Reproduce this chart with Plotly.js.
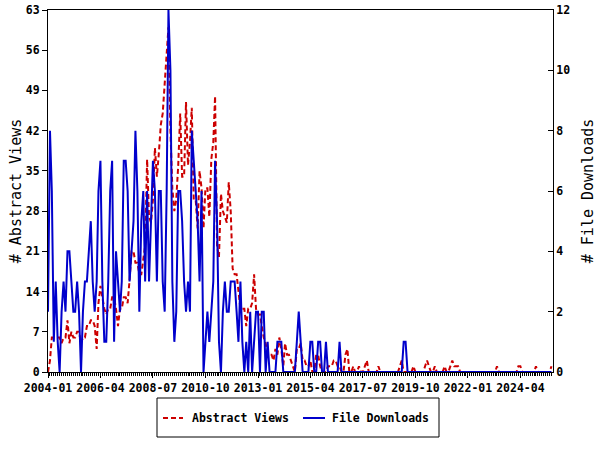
<!DOCTYPE html>
<html><head><meta charset="utf-8">
<script src="https://cdn.plot.ly/plotly-3.0.1.min.js"></script>
<style>html,body{margin:0;padding:0;background:#fff}#chart{width:600px;height:450px}</style>
</head><body><div id="chart"></div>
<script>
const startYear = 2004;
const startMonth = 1;

const abstractViews = [
0,2,6,6,6,6,6,5,6,6,
9,5,7,6,6,7,7,5,6,6,
8,8,9,9,8,4,12,15,13,11,
10,11,11,13,13,11,8,11,11,13,
13,12,16,21,21,19,19,17,17,20,
22,37,27,26,30,39,34,38,43,45,
50,55,60,42,32,28,30,36,45,34,
34,47,36,40,46,30,30,25,35,32,
25,32,32,27,37,40,48,22,20,31,
28,27,26,33,28,18,17,17,14,11,
11,11,8,11,11,12,17,11,10,10,
8,6,5,3,3,3,2,4,3,6,
4,1,5,3,3,2,1,0,4,4,
5,2,2,1,1,2,0,0,3,3,
1,0,0,0,1,1,1,2,2,1,
1,0,0,3,4,0,0,1,0,0,
1,0,0,1,2,0,0,0,0,0,
1,0,0,0,0,0,0,0,0,0,
0,1,2,0,0,0,0,0,1,0,
0,0,0,0,1,2,1,0,0,1,
0,0,0,0,1,0,0,1,2,1,
1,1,0,0,0,0,0,0,0,0,
0,0,0,0,0,0,0,0,0,0,
0,1,0,0,0,0,0,0,0,0,
0,0,1,1,0,0,0,0,0,0,
0,1,0,0,0,0,0,0,0,1
];

const fileDownloads = [
2,8,6,1,3,1,0,2,3,2,
4,4,3,2,2,3,2,0,2,3,
3,4,5,3,2,3,6,7,3,1,
1,3,6,7,1,4,3,2,3,7,
7,6,3,4,5,8,6,2,5,6,
3,6,3,5,7,6,3,6,6,3,
2,6,12,10,3,1,2,6,6,5,
3,2,3,2,8,7,6,5,3,6,
0,1,2,1,2,3,7,5,1,0,
2,3,2,2,3,3,3,2,1,3,
1,0,1,0,2,0,1,2,2,0,
2,2,0,1,0,0,0,0,1,1,
1,0,0,0,0,0,0,0,1,2,
1,0,0,0,0,1,1,0,0,1,
1,0,0,1,0,0,0,0,0,0,
1,0,0,0,0,0,0,0,0,0,
0,0,0,0,0,0,0,0,0,0,
0,0,0,0,0,0,0,0,0,0,
0,0,0,1,1,0,0,0,0,0,
0,0,0,0,0,0,0,0,0,0,
0,0,0,0,0,0,0,0,0,0,
0,0,0,0,0,0,0,0,0,0,
0,0,0,0,0,0,0,0,0,0,
0,0,0,0,0,0,0,0,0,0,
0,0,0,0,0,0,0,0,0,0,
0,0,0,0,0,0,0,0,0,0
];

const seriesNames = ['Abstract Views', 'File Downloads'];
const seriesColors = ['#cc0000', '#0000cc'];

const months = abstractViews.map((_, i) => {
  const m = startMonth - 1 + i;
  const y = startYear + Math.floor(m / 12);
  const mm = (m % 12) + 1;
  return y + '-' + String(mm).padStart(2, '0') + '-01';
});

const mono = 'DejaVu Sans Mono, monospace';
const tickFont = {family: mono, size: 11.5, color: '#000', weight: 'bold'};
const redDash = '5px,3px';

const traces = [
  {x: months, y: abstractViews, name: seriesNames[0], type: 'scatter', mode: 'lines',
   line: {color: seriesColors[0], width: 2, dash: redDash}, xaxis: 'x', yaxis: 'y', hoverinfo: 'skip'},
  {x: months, y: fileDownloads, name: seriesNames[1], type: 'scatter', mode: 'lines',
   line: {color: seriesColors[1], width: 2}, xaxis: 'x', yaxis: 'y2', hoverinfo: 'skip'}
];

// plot area: x 48..553 px, y 10..372 px
const px = v => (v - 48) / 505;
const py = v => (372 - v) / 362;

const layout = {
  width: 600, height: 450,
  margin: {l: 48, r: 47, t: 10, b: 78, pad: 0},
  paper_bgcolor: '#fff', plot_bgcolor: '#fff',
  showlegend: false,
  xaxis: {type: 'date', range: ['2004-01-01', '2025-08-25'], showgrid: false, zeroline: false,
    showline: true, linecolor: '#000', linewidth: 1, mirror: true,
    tickmode: 'linear', tick0: '2004-01-01', dtick: 'M27', tickformat: '%Y-%m',
    ticks: 'outside', ticklen: 5, tickcolor: '#000', tickfont: tickFont,
    minor: {dtick: 'M1', tick0: '2004-01-01', ticks: 'outside', ticklen: 3, tickcolor: '#000', showgrid: false}},
  yaxis: {range: [0, 63], tickmode: 'linear', tick0: 0, dtick: 7, showgrid: false, zeroline: false,
    showline: true, linecolor: '#000', linewidth: 1, ticks: 'outside', ticklen: 5, tickcolor: '#000',
    tickfont: tickFont,
    title: {text: '# Abstract Views', font: {family: mono, size: 15, color: '#000'}, standoff: 0}},
  yaxis2: {range: [0, 12], overlaying: 'y', side: 'right', tickmode: 'linear', tick0: 0, dtick: 2,
    showgrid: false, zeroline: false, showline: true, linecolor: '#000', linewidth: 1,
    ticks: 'inside', ticklen: 5, tickcolor: '#000', tickfont: tickFont,
    title: {text: '# File Downloads', font: {family: mono, size: 15, color: '#000'}, standoff: 13}},
  shapes: [
    {type: 'rect', xref: 'paper', yref: 'paper', x0: px(157), x1: px(439), y0: py(437), y1: py(398),
     line: {color: '#000', width: 1}, fillcolor: '#fff'},
    {type: 'line', xref: 'paper', yref: 'paper', x0: px(163), x1: px(183), y0: py(418), y1: py(418),
     line: {color: seriesColors[0], width: 2, dash: redDash}},
    {type: 'line', xref: 'paper', yref: 'paper', x0: px(303), x1: px(325), y0: py(418), y1: py(418),
     line: {color: seriesColors[1], width: 2}}
  ],
  annotations: [
    {xref: 'paper', yref: 'paper', x: px(190), y: py(418), xanchor: 'left', yanchor: 'middle',
     text: seriesNames[0], showarrow: false, font: {family: mono, size: 11.5, color: '#000', weight: 'bold'}},
    {xref: 'paper', yref: 'paper', x: px(330), y: py(418), xanchor: 'left', yanchor: 'middle',
     text: seriesNames[1], showarrow: false, font: {family: mono, size: 11.5, color: '#000', weight: 'bold'}}
  ]
};

Plotly.newPlot('chart', traces, layout, {staticPlot: true, displayModeBar: false});
</script>
</body></html>
